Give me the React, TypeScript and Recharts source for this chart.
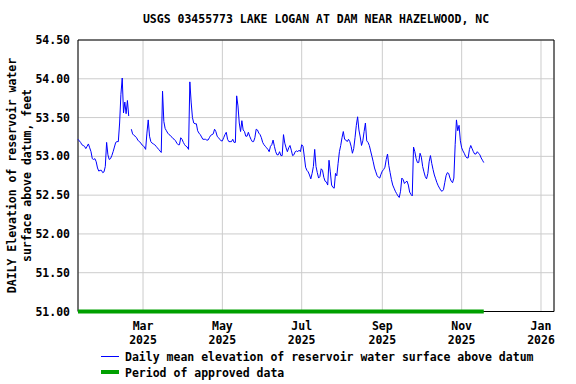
import React from 'react';
import { ComposedChart, Line, XAxis, YAxis, CartesianGrid, ReferenceLine, ReferenceArea } from 'recharts';

const DAY = 86400000;
const START = Date.UTC(2025, 0, 10);
const END = Date.UTC(2026, 0, 11);
const APPROVED_END = Date.UTC(2025, 10, 18);

const tickDates = [
  Date.UTC(2025, 2, 1),
  Date.UTC(2025, 4, 1),
  Date.UTC(2025, 6, 1),
  Date.UTC(2025, 8, 1),
  Date.UTC(2025, 10, 1),
  Date.UTC(2026, 0, 1),
];
const tickMonths = ['Mar', 'May', 'Jul', 'Sep', 'Nov', 'Jan'];
const tickYears = ['2025', '2025', '2025', '2025', '2025', '2026'];
const yTicks = [51.0, 51.5, 52.0, 52.5, 53.0, 53.5, 54.0, 54.5];

// Daily mean elevation (feet), one value per day starting 2025-01-10
const elevation: (number | null)[] = [
  53.22, 53.20, 53.18, 53.15, 53.14, 53.13, 53.10, 53.13, 53.16, 53.11,
  53.06, 52.97, 52.96, 52.97, 52.93, 52.85, 52.81, 52.82, 52.82, 52.79,
  52.80, 52.87, 53.18, 53.02, 52.96, 52.97, 53.01, 53.06, 53.12, 53.18,
  53.19, 53.19, 53.43, 53.80, 54.01, 53.56, 53.70, 53.55, 53.72, 53.52,
  null, 53.35, 53.29, 53.27, 53.26, 53.24, 53.21, 53.19, 53.18, 53.15,
  53.14, 53.12, 53.09, 53.30, 53.47, 53.26, 53.19, 53.17, 53.16, 53.15,
  53.13, 53.11, 53.09, 53.07, 53.05, 53.84, 53.45, 53.36, 53.33, 53.30,
  53.28, 53.27, 53.25, 53.23, 53.22, 53.20, 53.17, 53.15, 53.15, 53.24,
  53.22, 53.18, 53.15, 53.13, 53.12, 53.09, 53.96, 53.70, 53.50, 53.43,
  53.42, 53.42, 53.33, 53.30, 53.28, 53.25, 53.22, 53.22, 53.22, 53.21,
  53.21, 53.24, 53.27, 53.28, 53.29, 53.35, 53.32, 53.26, 53.24, 53.22,
  53.20, 53.20, 53.24, 53.28, 53.31, 53.22, 53.19, 53.19, 53.19, 53.22,
  53.18, 53.18, 53.78, 53.65, 53.43, 53.32, 53.46, 53.34, 53.32, 53.26,
  53.26, 53.31, 53.26, 53.22, 53.19, 53.19, 53.24, 53.35, 53.34, 53.30,
  53.28, 53.24, 53.18, 53.15, 53.13, 53.11, 53.09, 53.06, 53.13, 53.15,
  53.21, 53.13, 53.06, 53.02, 53.02, 53.06, 53.01, 53.01, 53.28, 53.17,
  53.11, 53.06, 53.11, 53.14, 53.08, 53.01, 53.02, 53.06, 53.07, 53.06,
  53.08, 53.06, 53.15, 53.13, 53.00, 52.86, 52.82, 52.80, 52.76, 52.71,
  52.78, 52.87, 53.09, 52.87, 52.79, 52.72, 52.74, 52.84, 52.82, 52.73,
  52.68, 52.67, 52.63, 52.95, 52.80, 52.63, 52.60, 52.59, 52.78, 52.75,
  52.91, 53.06, 53.14, 53.24, 53.32, 53.22, 53.21, 53.19, 53.22, 53.19,
  53.13, 53.04, 53.10, 53.24, 53.40, 53.51, 53.34, 53.25, 53.14, 53.20,
  53.32, 53.43, 53.20, 53.18, 53.14, 53.07, 53.00, 52.93, 52.85, 52.80,
  52.75, 52.73, 52.72, 52.77, 52.81, 52.83, 52.86, 52.96, 53.03, 52.88,
  52.79, 52.70, 52.63, 52.59, 52.55, 52.52, 52.49, 52.47, 52.55, 52.72,
  52.70, 52.65, 52.67, 52.68, 52.63, 52.54, 52.51, 52.49, 53.12, 53.06,
  52.97, 52.92, 52.92, 53.04, 52.99, 52.87, 52.80, 52.74, 52.71, 52.78,
  52.93, 53.01, 52.91, 52.83, 52.76, 52.71, 52.66, 52.62, 52.59, 52.56,
  52.55, 52.57, 52.66, 52.75, 52.79, 52.78, 52.72, 52.68, 52.66, 52.72,
  53.15, 53.47, 53.33, 53.40, 53.20, 53.11, 53.07, 53.04, 53.00, 52.98,
  52.98, 53.09, 53.14, 53.10, 53.06, 53.03, 53.03, 53.06, 53.04, 53.02,
  52.98, 52.95, 52.92,
];

const data = elevation.map((v, i) => ({ t: START + i * DAY, v }));

const FONT = '"DejaVu Sans Mono", monospace';
const FS = 11.5;

const XTick = (props: any) => {
  const { x, y, payload } = props;
  const i = tickDates.indexOf(payload.value);
  return (
    <g>
      <text x={x} y={y + 10.5} textAnchor="middle" fontFamily={FONT} fontSize={FS} fontWeight="bold" fill="#000">
        {tickMonths[i]}
      </text>
      <text x={x} y={y + 24} textAnchor="middle" fontFamily={FONT} fontSize={FS} fontWeight="bold" fill="#000">
        {tickYears[i]}
      </text>
    </g>
  );
};

const YTick = (props: any) => {
  const { x, y, payload } = props;
  return (
    <text x={x} y={y + 4} textAnchor="end" fontFamily={FONT} fontSize={FS} fontWeight="bold" fill="#000">
      {Number(payload.value).toFixed(2)}
    </text>
  );
};

export default function App() {
  return (
    <div style={{ position: 'absolute', left: 0, top: 0, width: 576, height: 384, background: '#fff' }}>
      <ComposedChart width={576} height={384} data={data} margin={{ top: 40, right: 22, left: 0, bottom: 0 }}>
        <CartesianGrid stroke="#cccccc" strokeWidth={1} verticalPoints={undefined} />
        <XAxis
          dataKey="t"
          type="number"
          scale="time"
          domain={[START, END]}
          ticks={tickDates}
          tick={<XTick />}
          tickLine={false}
          axisLine={false}
          height={72.5}
          interval={0}
        />
        <YAxis
          type="number"
          domain={[51, 54.5]}
          ticks={yTicks}
          tick={<YTick />}
          tickLine={false}
          axisLine={false}
          width={78}
          interval={0}
        />
        <Line
          dataKey="v"
          stroke="#0000ff"
          strokeWidth={1}
          dot={false}
          activeDot={false}
          connectNulls={false}
          isAnimationActive={false}
          type="linear"
        />
        <ReferenceArea x1={START} x2={END} y1={51} y2={54.5} fill="none" stroke="#000" strokeWidth={1} ifOverflow="visible" />
        <ReferenceLine
          segment={[{ x: START, y: 51 }, { x: APPROVED_END, y: 51 }]}
          stroke="#00a000"
          strokeWidth={4}
          ifOverflow="visible"
        />
      </ComposedChart>
      <svg width={576} height={384} style={{ position: 'absolute', left: 0, top: 0, pointerEvents: 'none' }}>
        <text x={316} y={23} textAnchor="middle" fontFamily={FONT} fontSize={FS} fontWeight="bold" fill="#000">
          USGS 03455773 LAKE LOGAN AT DAM NEAR HAZELWOOD, NC
        </text>
        <text x={15.5} y={175.5} transform="rotate(-90 15.5 175.5)" textAnchor="middle" fontFamily={FONT} fontSize={FS} fontWeight="bold" fill="#000">
          DAILY Elevation of reservoir water
        </text>
        <text x={31} y={175.5} transform="rotate(-90 31 175.5)" textAnchor="middle" fontFamily={FONT} fontSize={FS} fontWeight="bold" fill="#000">
          surface above datum, feet
        </text>
        <line x1={101} x2={119} y1={356.5} y2={356.5} stroke="#0000ff" strokeWidth={1} />
        <text x={125} y={361} fontFamily={FONT} fontSize={FS} fontWeight="bold" fill="#000">
          Daily mean elevation of reservoir water surface above datum
        </text>
        <line x1={101} x2={119} y1={372} y2={372} stroke="#00a000" strokeWidth={4} />
        <text x={125} y={376.5} fontFamily={FONT} fontSize={FS} fontWeight="bold" fill="#000">
          Period of approved data
        </text>
      </svg>
    </div>
  );
}
